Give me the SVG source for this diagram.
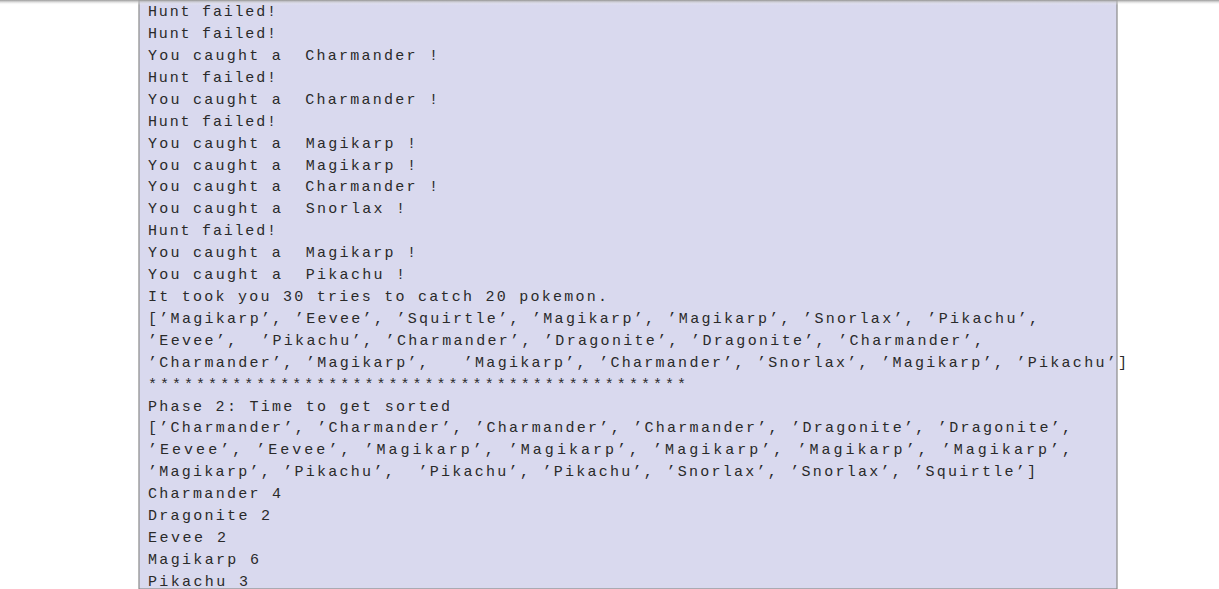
<svg xmlns="http://www.w3.org/2000/svg" width="1219" height="589" viewBox="0 0 1219 589">
<defs><linearGradient id="sh" x1="0" y1="0" x2="0" y2="1"><stop offset="0" stop-color="#999"/><stop offset="1" stop-color="#fff" stop-opacity="0"/></linearGradient></defs>
<style>text{font-family:"Liberation Mono","DejaVu Sans Mono",monospace;font-size:15px;fill:#2a2a2a;white-space:pre}</style>
<rect width="1219" height="589" fill="#fff"/>
<rect x="139" y="0" width="978" height="589" fill="#d9d9ee" stroke="#8a8a8a" stroke-width="1.2"/>
<rect x="0" y="0" width="1219" height="5" fill="url(#sh)"/>
<g lengthAdjust="spacing">
<text x="148" y="16" textLength="128">Hunt failed!</text>
<text x="148" y="38" textLength="128">Hunt failed!</text>
<text x="148" y="60" textLength="290">You caught a  Charmander !</text>
<text x="148" y="82" textLength="128">Hunt failed!</text>
<text x="148" y="104" textLength="290">You caught a  Charmander !</text>
<text x="148" y="126" textLength="128">Hunt failed!</text>
<text x="148" y="148" textLength="268">You caught a  Magikarp !</text>
<text x="148" y="170" textLength="268">You caught a  Magikarp !</text>
<text x="148" y="191" textLength="290">You caught a  Charmander !</text>
<text x="148" y="213" textLength="257">You caught a  Snorlax !</text>
<text x="148" y="235" textLength="128">Hunt failed!</text>
<text x="148" y="257" textLength="268">You caught a  Magikarp !</text>
<text x="148" y="279" textLength="257">You caught a  Pikachu !</text>
<text x="148" y="301" textLength="459">It took you 30 tries to catch 20 pokemon.</text>
<text x="148" y="323" textLength="890">[’Magikarp’, ’Eevee’, ’Squirtle’, ’Magikarp’, ’Magikarp’, ’Snorlax’, ’Pikachu’,</text>
<text x="148" y="345" textLength="835">’Eevee’,  ’Pikachu’, ’Charmander’, ’Dragonite’, ’Dragonite’, ’Charmander’,</text>
<text x="148" y="367" textLength="979">’Charmander’, ’Magikarp’,   ’Magikarp’, ’Charmander’, ’Snorlax’, ’Magikarp’, ’Pikachu’]</text>
<text x="148" y="389" textLength="538">*********************************************</text>
<text x="148" y="411" textLength="302">Phase 2: Time to get sorted</text>
<text x="148" y="432" textLength="923">[’Charmander’, ’Charmander’, ’Charmander’, ’Charmander’, ’Dragonite’, ’Dragonite’,</text>
<text x="148" y="454" textLength="923">’Eevee’, ’Eevee’, ’Magikarp’, ’Magikarp’, ’Magikarp’, ’Magikarp’, ’Magikarp’,</text>
<text x="148" y="476" textLength="888">’Magikarp’, ’Pikachu’,  ’Pikachu’, ’Pikachu’, ’Snorlax’, ’Snorlax’, ’Squirtle’]</text>
<text x="148" y="498" textLength="133">Charmander 4</text>
<text x="148" y="520" textLength="122">Dragonite 2</text>
<text x="148" y="542" textLength="78">Eevee 2</text>
<text x="148" y="564" textLength="111">Magikarp 6</text>
<text x="148" y="586" textLength="100">Pikachu 3</text>
</g>
</svg>
